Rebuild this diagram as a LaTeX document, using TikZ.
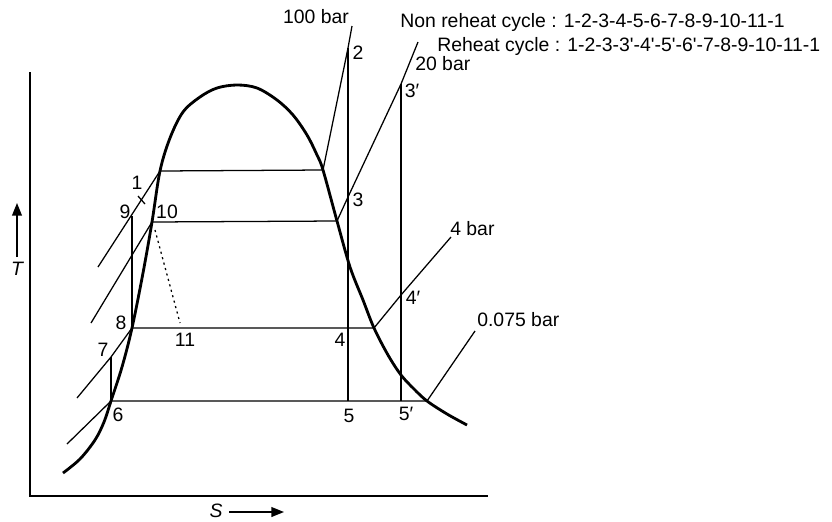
\documentclass[tikz,border=0pt]{standalone}
\usepackage{fontspec}
\setmainfont{Liberation Sans}
\usetikzlibrary{arrows.meta}

\begin{document}
\begin{tikzpicture}[x=0.025cm,y=-0.025cm,
  lbl/.style={inner sep=0pt,font=\fontsize{13.8}{16}\selectfont},
  thinline/.style={line width=0.9pt},
  dome/.style={line width=2pt},
  axisarrow/.style={line width=1pt,-{Triangle[width=7pt,length=9pt]}}]
\useasboundingbox (0,0) rectangle (832,521);
% state points
\coordinate (p1) at (160,171);
\coordinate (p2) at (348,48);
\coordinate (p3) at (348,197);
\coordinate (p3s) at (401,84);
\coordinate (p4) at (348,328);
\coordinate (p4s) at (401,295);
\coordinate (p5) at (348,401);
\coordinate (p5s) at (401,401);
\coordinate (p6) at (111,401);
\coordinate (p7) at (111,357);
\coordinate (p8) at (132,328);
\coordinate (p9) at (132,216);
\coordinate (p10) at (152,222);
\coordinate (p11) at (180,323);
% saturation points on the dome
\coordinate (gA) at (323,170);
\coordinate (gB) at (337,221);
\coordinate (gC) at (374,328);
\coordinate (gD) at (427,401);
% free ends of the pressure lines
\coordinate (e100) at (352,26);
\coordinate (e20) at (418,42);
\coordinate (e4) at (451,237);
\coordinate (e075) at (475,331);
\coordinate (l1) at (98,267);
\coordinate (l10) at (91,323);
\coordinate (l8) at (77,398);
\coordinate (l6) at (67,444);
% axes
\coordinate (o) at (30,496);
\coordinate (ytop) at (30,72);
\coordinate (xend) at (488,496);
\draw[line width=1pt] (ytop) -- (o) -- (xend);
\draw[axisarrow] (17,257) coordinate (ta) -- (17,203) coordinate (tb);
\node[lbl,font=\fontsize{13.8}{16}\selectfont\itshape] (tlab) at (17,269) {T};
\node[lbl,font=\fontsize{13.8}{16}\selectfont\itshape] (slab) at (216,511) {S};
\draw[axisarrow] (229,512) coordinate (sa) -- (284,512) coordinate (sb);

% saturation dome
\draw[dome] plot[smooth,tension=0.55] coordinates {(63,473) (80,459) (95,440) (104,422) (111,401)
  (122,367) (132,328) (143,273) (152,222) (160,171) (170,138) (183,112) (200,97)
  (217,88) (237,85) (257,88) (277,100) (293,115) (307,135) (317,155) (323,170)
  (337,221) (350,267) (363,300) (374,328) (388,355) (401,375) (414,389) (427,401) (447,414) (467,425)};

% constant pressure lines
\draw[thinline] (e100) -- (p2) -- (gA) -- (p1) -- (l1);
\draw[thinline] (e20) -- (p3s) -- (p3) -- (gB) -- (p10) -- (l10);
\draw[thinline] (e4) -- (p4s) -- (gC) -- (p4) -- (p8) -- (p7) -- (l8);
\draw[thinline] (e075) -- (gD) -- (p5s) -- (p5) -- (p6) -- (l6);
% expansion and pumping
\draw[thinline] (p2) -- (p5);
\draw[thinline] (p3s) -- (p5s);
\draw[thinline] (p9) -- (p8);
\draw[thinline] (p7) -- (p6);
\draw[thinline,dash pattern=on 1.5pt off 2.5pt] (155,230) -- (p11);
\draw[thinline] (138,196) -- (145,204);

% labels
\node[lbl] (n1) at (137,183) {1};
\node[lbl] (n2) at (358,53) {2};
\node[lbl] (n3) at (358,200) {3};
\node[lbl] (n3s) at (412,91) {3′};
\node[lbl] (n4) at (340,340) {4};
\node[lbl] (n4s) at (413,298) {4′};
\node[lbl] (n5) at (349,416) {5};
\node[lbl] (n5s) at (406,414) {5′};
\node[lbl] (n6) at (118,415) {6};
\node[lbl] (n7) at (103,350) {7};
\node[lbl] (n8) at (121,323) {8};
\node[lbl] (n9) at (125,212) {9};
\node[lbl] (n10) at (167,212) {10};
\node[lbl] (n11) at (185,340) {11};
\node[lbl] (b100) at (316,17) {100 bar};
\node[lbl,anchor=west] (b20) at (415,64) {20 bar};
\node[lbl,anchor=west] (b4) at (450,229) {4 bar};
\node[lbl,anchor=west] (b075) at (477,320) {0.075 bar};
\node[lbl,anchor=west] (nonre) at (400,22) {Non reheat cycle : 1-2-3-4-5-6-7-8-9-10-11-1};
\node[lbl,anchor=west] (re) at (437,46) {Reheat cycle : 1-2-3-3\textquotesingle-4\textquotesingle-5\textquotesingle-6\textquotesingle-7-8-9-10-11-1};
\end{tikzpicture}
\end{document}
